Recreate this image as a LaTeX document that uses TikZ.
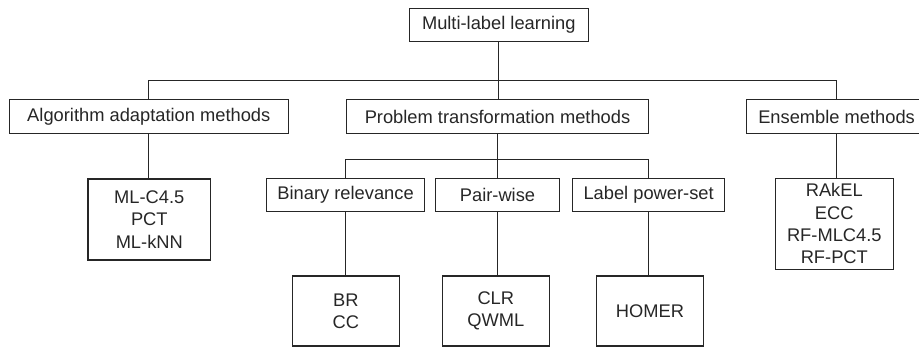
\documentclass[tikz,border=0pt]{standalone}
\usepackage{fontspec}
\setmainfont{Liberation Sans}
\begin{document}
\begin{tikzpicture}[x=1pt,y=-1pt,
  box/.style={draw=black!85, line width=1.1pt, inner sep=0pt, align=center,
    font=\fontsize{18.3}{22.4}\selectfont, text=black!85},
  conn/.style={draw=black!85, line width=1.1pt}]
\useasboundingbox (0,0) rectangle (919,347);
% level 0
\node[box, minimum width=179pt, minimum height=33.4pt] (root) at (498.8,25) {Multi-label learning};
% level 1
\node[box, minimum width=279pt, minimum height=34pt] (alg) at (148.8,116.5) {Algorithm adaptation methods};
\node[box, minimum width=301.6pt, minimum height=33.7pt] (prob) at (497.5,116.8) {Problem transformation methods};
\node[box, minimum width=180.7pt, minimum height=33.7pt] (ens) at (836.6,116.5) {Ensemble methods};
% level 2
\node[box, minimum width=122.7pt, minimum height=81pt] (ml) at (149.3,219.5) {ML-C4.5\\PCT\\ML-kNN};
\node[box, minimum width=158.6pt, minimum height=33.4pt] (br) at (345.6,195) {Binary relevance};
\node[box, minimum width=124.4pt, minimum height=33.4pt] (pw) at (497.5,195) {Pair-wise};
\node[box, minimum width=152pt, minimum height=33.4pt] (lp) at (648.6,195) {Label power-set};
\node[box, minimum width=118pt, minimum height=91pt] (rak) at (834.3,223.8) {RAkEL\\ECC\\RF-MLC4.5\\RF-PCT};
% level 3
\node[box, minimum width=107pt, minimum height=70pt] (brc) at (345.8,311) {BR\\CC};
\node[box, minimum width=107pt, minimum height=70pt] (clr) at (495.8,311) {CLR\\QWML};
\node[box, minimum width=106.6pt, minimum height=70pt] (hom) at (650,311) {HOMER};
% bus coordinates
\coordinate (bus) at (498.8,80.6);
\coordinate (sbus) at (497.5,159.4);
% connectors
\draw[conn] (root.south) -- (root.south |- prob.north);
\draw[conn] (alg.north) |- (bus) -| (ens.north);
\draw[conn] (alg.south) -- (alg.south |- ml.north);
\draw[conn] (ens.south) -- (ens.south |- rak.north);
\draw[conn] (prob.south) -- (prob.south |- sbus);
\draw[conn] (br.north) |- (sbus) -| (lp.north);
\draw[conn] (pw.north) -- (pw.north |- sbus);
\draw[conn] (br.south) -- (br.south |- brc.north);
\draw[conn] (pw.south) -- (pw.south |- clr.north);
\draw[conn] (lp.south) -- (lp.south |- hom.north);
\end{tikzpicture}
\end{document}
